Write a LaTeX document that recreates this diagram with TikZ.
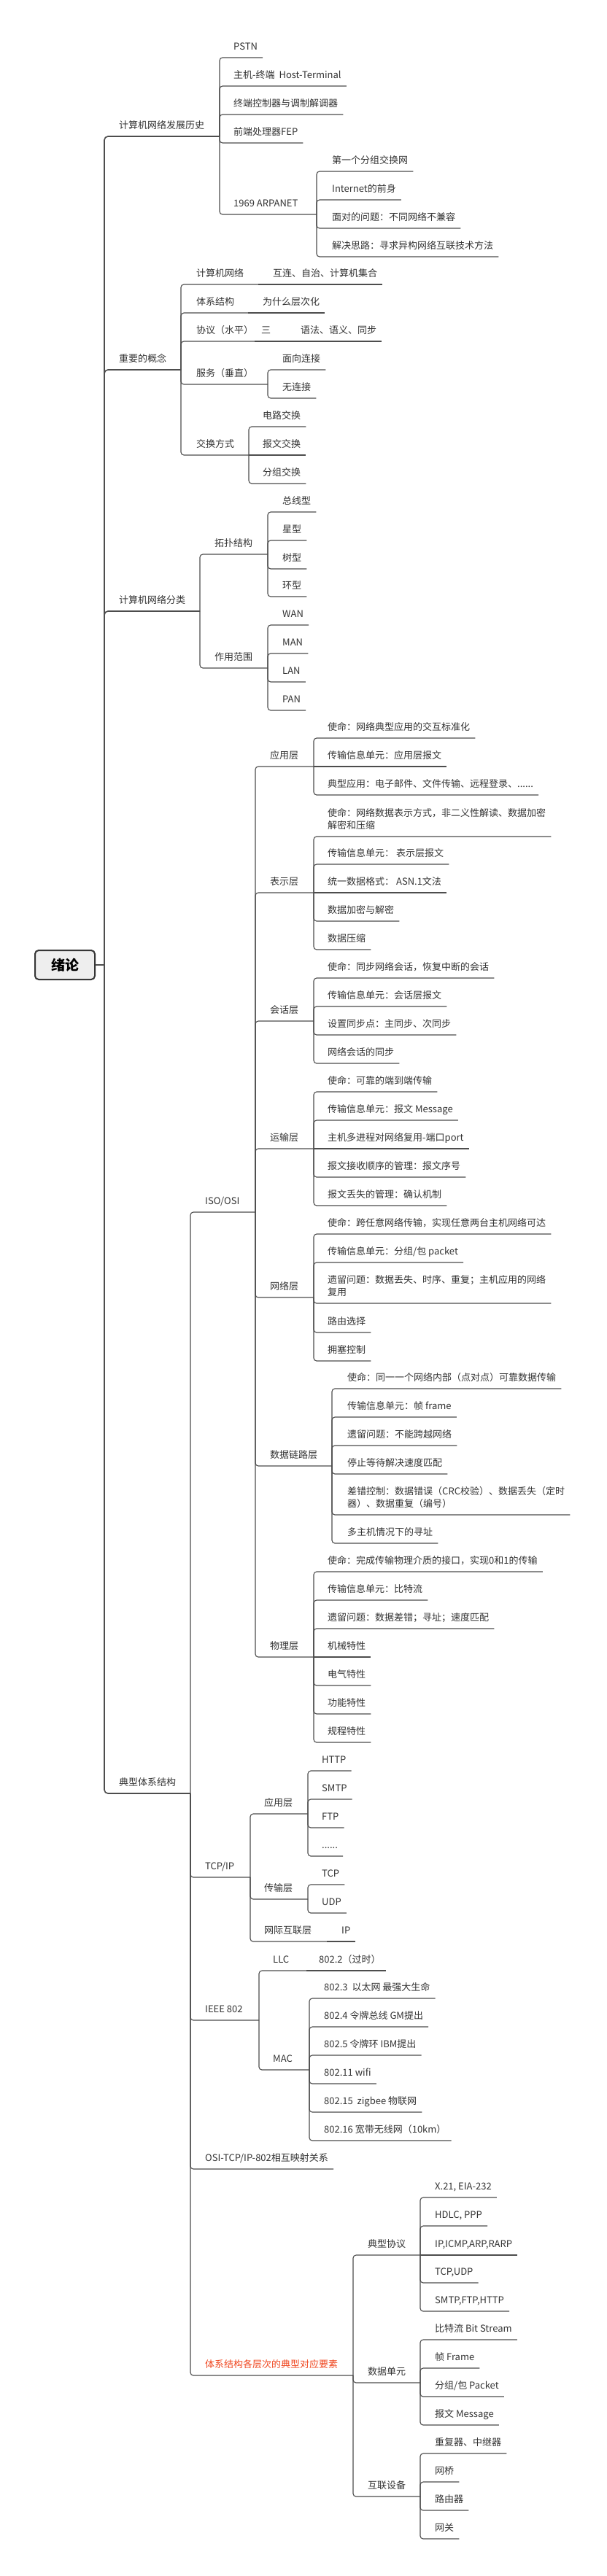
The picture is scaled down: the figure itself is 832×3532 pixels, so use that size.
\documentclass[tikz,border=0pt]{standalone}
\usepackage{fontspec}
\setmainfont{Noto Sans CJK SC}
\definecolor{txt}{HTML}{333333}
\definecolor{ln}{HTML}{4D4D4D}
\definecolor{hot}{HTML}{F0461E}
\definecolor{rootfill}{HTML}{EEEEEE}
\tikzset{
  lbl/.style={anchor=south west, inner xsep=7pt, inner ysep=7pt, text height=10pt, text depth=3pt,
    font=\fontsize{13pt}{17pt}\selectfont, text=txt},
  conn/.style={draw=ln, line width=1.1pt, rounded corners=4pt},
  conn1/.style={draw=ln, line width=1.6pt, rounded corners=5pt},
  rootbox/.style={draw=ln!70!black, line width=2pt, fill=rootfill, rounded corners=5pt,
    minimum width=82pt, minimum height=40pt, inner sep=0pt,
    font=\fontsize{19pt}{22pt}\selectfont\bfseries, text=black},
}
\newcommand\cn[2]{\draw[conn] (#1) |- (#2.south east);}
\newcommand\cs[2]{\draw[conn] (#1) -- (#2.south east);}
\newcommand\cp[2]{\draw[conn] (#1) |- (#2);}
\newcommand\twoline[2]{\begin{tabular}[b]{@{}l@{}}#1\\#2\end{tabular}}
\begin{document}
\begin{tikzpicture}[x=1pt,y=-1pt]
\useasboundingbox (0,0) rectangle (832,3532);
\fill[white] (0,0) rectangle (832,3532);

% root
\node[rootbox] (root) at (89,1323) {绪论};
\coordinate (R) at (143,1323);

% ---------- level 1
\node[lbl] (A) at (156,187) {计算机网络发展历史}; \coordinate (At) at (301,187);
\node[lbl] (B) at (156,507) {重要的概念}; \coordinate (Bt) at (248,507);
\node[lbl] (C) at (156,838) {计算机网络分类}; \coordinate (Ct) at (274,838);
\node[lbl] (D) at (156,2459) {典型体系结构}; \coordinate (Dt) at (261,2459);

\draw[conn1] (root.east) -- (R);
\draw[conn1] (R) |- (At);
\draw[conn1] (R) |- (Bt);
\draw[conn1] (R) |- (Ct);
\draw[conn1] (R) |- (Dt);

% ---------- A
\node[lbl] (A1) at (313,79) {PSTN};
\node[lbl] (A2) at (313,118) {主机-终端\ \ Host-Terminal};
\node[lbl] (A3) at (313,157) {终端控制器与调制解调器};
\node[lbl] (A4) at (313,196) {前端处理器FEP};
\node[lbl] (A5) at (313,294) {1969 ARPANET}; \coordinate (A5t) at (434,294);
\node[lbl] (A51) at (448,235) {第一个分组交换网};
\node[lbl] (A52) at (448,274) {Internet的前身};
\node[lbl] (A53) at (448,313) {面对的问题：不同网络不兼容};
\node[lbl] (A54) at (448,352) {解决思路：寻求异构网络互联技术方法};
\cn{At}{A1} \cn{At}{A2} \cn{At}{A3} \cn{At}{A4} \cp{At}{A5t}
\cn{A5t}{A51} \cn{A5t}{A52} \cn{A5t}{A53} \cn{A5t}{A54}

% ---------- B
\node[lbl] (B1) at (262,390) {计算机网络}; \coordinate (B1t) at (354,390);
\node[lbl] (B1a) at (367,390) {互连、自治、计算机集合};
\node[lbl] (B2) at (262,429) {体系结构}; \coordinate (B2t) at (340,429);
\node[lbl] (B2a) at (353,429) {为什么层次化};
\node[lbl] (B3) at (262,468) {协议（水平）}; \coordinate (B3t) at (349,468);
\node[lbl] (B3a) at (351,468) {三}; \coordinate (B3at) at (392,468);
\node[lbl] (B3b) at (405,468) {语法、语义、同步};
\node[lbl] (B4) at (262,527) {服务（垂直）}; \coordinate (B4t) at (367,527);
\node[lbl] (B41) at (380,507) {面向连接};
\node[lbl] (B42) at (380,546) {无连接};
\node[lbl] (B5) at (262,624) {交换方式}; \coordinate (B5t) at (341,624);
\node[lbl] (B51) at (353,585) {电路交换};
\node[lbl] (B52) at (353,624) {报文交换};
\node[lbl] (B53) at (353,663) {分组交换};
\cp{Bt}{B1t} \cs{B1t}{B1a}
\cp{Bt}{B2t} \cs{B2t}{B2a}
\cp{Bt}{B3t} \draw[conn] (B3t) -- (B3at); \cs{B3at}{B3b}
\cp{Bt}{B4t} \cn{B4t}{B41} \cn{B4t}{B42}
\cp{Bt}{B5t} \cn{B5t}{B51} \cs{B5t}{B52} \cn{B5t}{B53}

% ---------- C
\node[lbl] (C1) at (287,760) {拓扑结构}; \coordinate (C1t) at (367,760);
\node[lbl] (C11) at (380,702) {总线型};
\node[lbl] (C12) at (380,741) {星型};
\node[lbl] (C13) at (380,780) {树型};
\node[lbl] (C14) at (380,818) {环型};
\node[lbl] (C2) at (287,916) {作用范围}; \coordinate (C2t) at (367,916);
\node[lbl] (C21) at (380,857) {WAN};
\node[lbl] (C22) at (380,896) {MAN};
\node[lbl] (C23) at (380,935) {LAN};
\node[lbl] (C24) at (380,974) {PAN};
\cp{Ct}{C1t} \cn{C1t}{C11} \cn{C1t}{C12} \cn{C1t}{C13} \cn{C1t}{C14}
\cp{Ct}{C2t} \cn{C2t}{C21} \cn{C2t}{C22} \cn{C2t}{C23} \cn{C2t}{C24}

% ---------- D1 ISO/OSI
\node[lbl] (D1) at (274,1662) {ISO/OSI}; \coordinate (D1t) at (350,1662);
\cp{Dt}{D1t}
% application
\node[lbl] (L1) at (363,1051) {应用层}; \coordinate (L1t) at (430,1051);
\node[lbl] (L11) at (442,1012) {使命：网络典型应用的交互标准化};
\node[lbl] (L12) at (442,1051) {传输信息单元：应用层报文};
\node[lbl] (L13) at (442,1090) {典型应用：电子邮件、文件传输、远程登录、......};
\cp{D1t}{L1t} \cn{L1t}{L11} \cs{L1t}{L12} \cn{L1t}{L13}
% presentation
\node[lbl] (L2) at (363,1224) {表示层}; \coordinate (L2t) at (430,1224);
\node[lbl] (L21) at (442,1147) {\twoline{使命：网络数据表示方式，非二义性解读、数据加密}{解密和压缩}};
\node[lbl] (L22) at (442,1185) {传输信息单元：\ 表示层报文};
\node[lbl] (L23) at (442,1224) {统一数据格式：\ ASN.1文法};
\node[lbl] (L24) at (442,1263) {数据加密与解密};
\node[lbl] (L25) at (442,1302) {数据压缩};
\cp{D1t}{L2t} \cn{L2t}{L21} \cn{L2t}{L22} \cs{L2t}{L23} \cn{L2t}{L24} \cn{L2t}{L25}
% session
\node[lbl] (L3) at (363,1400) {会话层}; \coordinate (L3t) at (430,1400);
\node[lbl] (L31) at (442,1341) {使命：同步网络会话，恢复中断的会话};
\node[lbl] (L32) at (442,1380) {传输信息单元：会话层报文};
\node[lbl] (L33) at (442,1419) {设置同步点：主同步、次同步};
\node[lbl] (L34) at (442,1458) {网络会话的同步};
\cp{D1t}{L3t} \cn{L3t}{L31} \cn{L3t}{L32} \cn{L3t}{L33} \cn{L3t}{L34}
% transport
\node[lbl] (L4) at (363,1575) {运输层}; \coordinate (L4t) at (430,1575);
\node[lbl] (L41) at (442,1497) {使命：可靠的端到端传输};
\node[lbl] (L42) at (442,1536) {传输信息单元：报文 Message};
\node[lbl] (L43) at (442,1575) {主机多进程对网络复用-端口port};
\node[lbl] (L44) at (442,1614) {报文接收顺序的管理：报文序号};
\node[lbl] (L45) at (442,1653) {报文丢失的管理：确认机制};
\cp{D1t}{L4t} \cn{L4t}{L41} \cn{L4t}{L42} \cs{L4t}{L43} \cn{L4t}{L44} \cn{L4t}{L45}
% network
\node[lbl] (L5) at (363,1779) {网络层}; \coordinate (L5t) at (430,1779);
\node[lbl] (L51) at (442,1692) {使命：跨任意网络传输，实现任意两台主机网络可达};
\node[lbl] (L52) at (442,1731) {传输信息单元：分组/包 packet};
\node[lbl] (L53) at (442,1787) {\twoline{遗留问题：数据丢失、时序、重复；主机应用的网络}{复用}};
\node[lbl] (L54) at (442,1827) {路由选择};
\node[lbl] (L55) at (442,1866) {拥塞控制};
\cp{D1t}{L5t} \cn{L5t}{L51} \cn{L5t}{L52} \cn{L5t}{L53} \cn{L5t}{L54} \cn{L5t}{L55}
% data link
\node[lbl] (L6) at (363,2010) {数据链路层}; \coordinate (L6t) at (455,2010);
\node[lbl] (L61) at (469,1904) {使命：同一一个网络内部（点对点）可靠数据传输};
\node[lbl] (L62) at (469,1943) {传输信息单元：帧 frame};
\node[lbl] (L63) at (469,1982) {遗留问题：不能跨越网络};
\node[lbl] (L64) at (469,2021) {停止等待解决速度匹配};
\node[lbl] (L65) at (469,2077) {\twoline{差错控制：数据错误（CRC校验）、数据丢失（定时}{器）、数据重复（编号）}};
\node[lbl] (L66) at (469,2116) {多主机情况下的寻址};
\cp{D1t}{L6t} \cn{L6t}{L61} \cn{L6t}{L62} \cn{L6t}{L63} \cn{L6t}{L64} \cn{L6t}{L65} \cn{L6t}{L66}
% physical
\node[lbl] (L7) at (363,2272) {物理层}; \coordinate (L7t) at (430,2272);
\node[lbl] (L71) at (442,2155) {使命：完成传输物理介质的接口，实现0和1的传输};
\node[lbl] (L72) at (442,2194) {传输信息单元：比特流};
\node[lbl] (L73) at (442,2233) {遗留问题：数据差错；寻址；速度匹配};
\node[lbl] (L74) at (442,2272) {机械特性};
\node[lbl] (L75) at (442,2311) {电气特性};
\node[lbl] (L76) at (442,2350) {功能特性};
\node[lbl] (L77) at (442,2389) {规程特性};
\cp{D1t}{L7t} \cn{L7t}{L71} \cn{L7t}{L72} \cn{L7t}{L73} \cs{L7t}{L74} \cn{L7t}{L75} \cn{L7t}{L76} \cn{L7t}{L77}

% ---------- D2 TCP/IP
\node[lbl] (D2) at (274,2574) {TCP/IP}; \coordinate (D2t) at (343,2574);
\cp{Dt}{D2t}
\node[lbl] (T1) at (355,2487) {应用层}; \coordinate (T1t) at (422,2487);
\node[lbl] (T11) at (434,2428) {HTTP};
\node[lbl] (T12) at (434,2467) {SMTP};
\node[lbl] (T13) at (434,2506) {FTP};
\node[lbl] (T14) at (434,2545) {......};
\cp{D2t}{T1t} \cn{T1t}{T11} \cn{T1t}{T12} \cn{T1t}{T13} \cn{T1t}{T14}
\node[lbl] (T2) at (355,2604) {传输层}; \coordinate (T2t) at (422,2604);
\node[lbl] (T21) at (434,2584) {TCP};
\node[lbl] (T22) at (434,2623) {UDP};
\cp{D2t}{T2t} \cn{T2t}{T21} \cn{T2t}{T22}
\node[lbl] (T3) at (355,2662) {网际互联层}; \coordinate (T3t) at (448,2662);
\node[lbl] (T31) at (461,2662) {IP};
\cp{D2t}{T3t} \cs{T3t}{T31}

% ---------- D3 IEEE 802
\node[lbl] (D3) at (274,2770) {IEEE 802}; \coordinate (D3t) at (355,2770);
\cp{Dt}{D3t}
\node[lbl] (E1) at (367,2702) {LLC}; \coordinate (E1t) at (420,2702);
\node[lbl] (E11) at (430,2702) {802.2（过时）};
\cp{D3t}{E1t} \cs{E1t}{E11}
\node[lbl] (E2) at (367,2838) {MAC}; \coordinate (E2t) at (424,2838);
\node[lbl] (E21) at (437,2740) {802.3\ \ 以太网 最强大生命};
\node[lbl] (E22) at (437,2779) {802.4 令牌总线 GM提出};
\node[lbl] (E23) at (437,2818) {802.5 令牌环 IBM提出};
\node[lbl] (E24) at (437,2857) {802.11 wifi};
\node[lbl] (E25) at (437,2896) {802.15\ \ zigbee 物联网};
\node[lbl] (E26) at (437,2935) {802.16 宽带无线网（10km）};
\cp{D3t}{E2t} \cn{E2t}{E21} \cn{E2t}{E22} \cn{E2t}{E23} \cn{E2t}{E24} \cn{E2t}{E25} \cn{E2t}{E26}

% ---------- D4
\node[lbl] (D4) at (274,2974) {OSI-TCP/IP-802相互映射关系};
\cn{Dt}{D4}

% ---------- D5
\node[lbl, text=hot] (D5) at (274,3257) {体系结构各层次的典型对应要素}; \coordinate (D5t) at (484,3257);
\cp{Dt}{D5t}
\node[lbl] (P1) at (497,3092) {典型协议}; \coordinate (P1t) at (576,3092);
\node[lbl] (P11) at (589,3013) {X.21, EIA-232};
\node[lbl] (P12) at (589,3052) {HDLC, PPP};
\node[lbl] (P13) at (589,3092) {IP,ICMP,ARP,RARP};
\node[lbl] (P14) at (589,3130) {TCP,UDP};
\node[lbl] (P15) at (589,3169) {SMTP,FTP,HTTP};
\cp{D5t}{P1t} \cn{P1t}{P11} \cn{P1t}{P12} \cs{P1t}{P13} \cn{P1t}{P14} \cn{P1t}{P15}
\node[lbl] (P2) at (497,3267) {数据单元}; \coordinate (P2t) at (576,3267);
\node[lbl] (P21) at (589,3208) {比特流 Bit Stream};
\node[lbl] (P22) at (589,3247) {帧 Frame};
\node[lbl] (P23) at (589,3286) {分组/包 Packet};
\node[lbl] (P24) at (589,3325) {报文 Message};
\cp{D5t}{P2t} \cn{P2t}{P21} \cn{P2t}{P22} \cn{P2t}{P23} \cn{P2t}{P24}
\node[lbl] (P3) at (497,3423) {互联设备}; \coordinate (P3t) at (576,3423);
\node[lbl] (P31) at (589,3364) {重复器、中继器};
\node[lbl] (P32) at (589,3403) {网桥};
\node[lbl] (P33) at (589,3442) {路由器};
\node[lbl] (P34) at (589,3481) {网关};
\cp{D5t}{P3t} \cn{P3t}{P31} \cn{P3t}{P32} \cn{P3t}{P33} \cn{P3t}{P34}
\end{tikzpicture}
\end{document}
